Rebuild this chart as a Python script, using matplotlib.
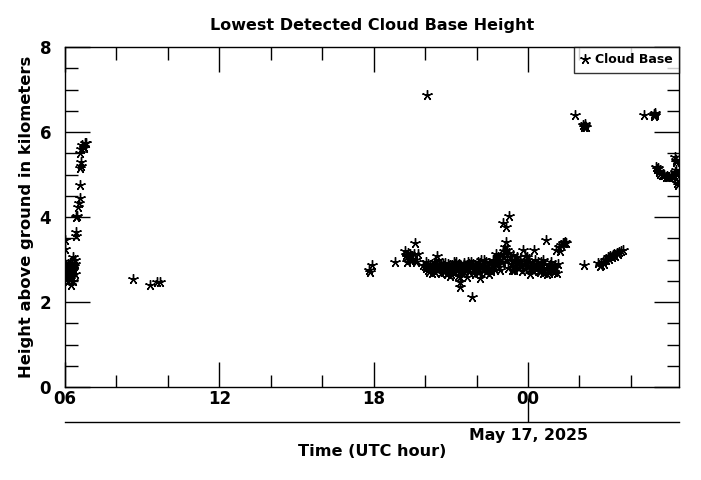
import numpy as np
import matplotlib
matplotlib.use("Agg")
import matplotlib.pyplot as plt
from matplotlib.ticker import MultipleLocator

# hours since 00 UTC May 16 (24 = 00 UTC May 17), heights in km
left_hr = [5.99, 5.99, 6.0, 6.02, 6.03, 6.05, 6.06, 6.08, 6.1, 6.1, 6.12, 6.13, 6.15, 6.15,
           6.17, 6.18, 6.2, 6.2, 6.22, 6.23, 6.25, 6.27, 6.28, 6.3, 6.3, 6.32, 6.33, 6.35,
           6.37, 6.38, 6.4, 6.41, 6.44, 6.44, 6.47, 6.5, 6.54, 6.58, 6.58, 6.6, 6.62, 6.63,
           6.6, 6.64, 6.68, 6.72, 6.78, 6.83, 6.75]
left_km = [3.45, 3.25, 2.7, 2.6, 2.85, 2.55, 2.75, 2.65, 2.9, 2.5, 2.8, 2.7, 2.6, 2.85,
           2.75, 2.55, 2.92, 2.65, 2.8, 2.4, 2.7, 2.9, 2.6, 2.8, 2.5, 3.07, 2.75, 2.85,
           2.65, 2.9, 3.0, 3.55, 3.65, 4.0, 4.02, 4.23, 4.32, 4.44, 4.75, 5.15, 5.3, 5.2,
           5.5, 5.6, 5.7, 5.65, 5.75, 5.73, 5.62]

sparse_hr = [8.64, 9.3, 9.57, 9.69, 17.82, 17.85, 17.95, 18.82]
sparse_km = [2.54, 2.4, 2.47, 2.47, 2.75, 2.7, 2.87, 2.95]

mid_hr = [19.2, 19.25, 19.3, 19.35, 19.4, 19.45, 19.5, 19.55, 19.6, 19.62, 19.66, 19.72,
          19.92, 19.3, 19.4, 20.06,
          20.0, 20.05, 20.1, 20.12, 20.18, 20.22, 20.28, 20.3, 20.35, 20.4, 20.45, 20.46,
          20.5, 20.55, 20.6, 20.62, 20.68, 20.72, 20.75, 20.8, 20.85, 20.88, 20.92, 20.98,
          21.0, 21.05, 21.1, 21.12, 21.18, 21.22, 21.25, 21.3, 21.34, 21.35, 21.36, 21.38,
          21.4, 21.45, 21.5, 21.52, 21.58, 21.6, 21.65, 21.7, 21.75, 21.78, 21.83, 21.85,
          21.9, 21.95, 22.0, 22.05, 22.1, 22.12, 22.15, 22.2, 22.25, 22.3, 22.35, 22.4,
          22.45, 22.5, 22.55, 22.6, 22.62, 22.68, 22.72, 22.76, 22.8, 22.85, 22.88, 22.92,
          22.95, 23.0, 23.02, 23.05, 23.08, 23.1, 23.13, 23.15, 23.18, 23.2, 23.25, 23.28,
          23.3, 23.35, 23.4, 23.45, 23.5, 23.55, 23.6, 23.65, 23.7, 23.75, 23.8, 23.85,
          23.9, 23.95, 24.0, 24.05, 24.1, 24.15, 24.2, 24.25, 24.3, 24.35, 24.4, 24.45,
          24.5, 24.55, 24.6, 24.65, 24.7, 24.75, 24.8, 24.85, 24.9, 24.95, 25.0, 25.05,
          25.1, 25.15, 25.2, 25.25, 25.3, 25.35, 25.4, 25.45, 25.48,
          20.15, 20.4, 20.7, 21.0, 21.2, 21.55, 21.8, 22.05, 22.3, 22.55, 23.45, 23.7,
          23.95, 24.2, 24.5, 24.8, 25.05,
          20.03, 20.25, 20.52, 20.78, 20.95, 21.15, 21.28, 21.42, 21.62, 21.72, 21.92, 22.18,
          22.38, 22.48, 22.7, 22.9, 23.22, 23.38, 23.58, 23.78, 23.88, 24.08, 24.28, 24.42,
          24.58, 24.72, 24.88, 25.02, 25.12]
mid_km = [3.21, 3.1, 3.05, 3.15, 3.0, 3.08, 2.98, 3.12, 3.0, 3.4, 2.95, 3.14,
          2.87, 2.95, 3.12, 6.87,
          2.85, 2.8, 2.9, 2.75, 2.85, 2.8, 2.9, 2.78, 2.85, 2.7, 2.88, 3.08,
          2.75, 2.82, 2.68, 2.9, 2.75, 2.85, 2.7, 2.8, 2.65, 2.9, 2.78, 2.7,
          2.85, 2.75, 2.8, 2.95, 2.7, 2.85, 2.78, 2.9, 2.36, 2.48, 2.58, 2.75,
          2.85, 2.8, 2.92, 2.7, 2.85, 2.78, 2.95, 2.71, 2.88, 2.8, 2.11, 2.9,
          2.75, 2.85, 2.8, 2.95, 2.7, 2.56, 2.88, 2.82, 2.9, 2.75, 2.95, 2.85,
          2.8, 2.92, 2.78, 2.88, 3.0, 2.85, 2.95, 3.14, 2.9, 3.05, 2.82, 2.98,
          3.1, 2.95, 3.87, 3.2, 3.05, 3.3, 3.76, 3.42, 3.22, 3.0, 3.15, 4.02,
          3.05, 2.9, 3.1, 2.95, 2.85, 3.0, 2.9, 2.8, 2.95, 2.85, 3.22, 2.9,
          2.78, 3.0, 2.85, 2.95, 2.8, 2.9, 2.75, 3.22, 2.88, 2.8, 2.95, 2.7,
          2.85, 2.78, 2.68, 2.9, 3.46, 2.8, 2.72, 2.88, 2.75, 2.85, 2.7, 2.82,
          3.22, 2.9, 3.3, 3.2, 3.35, 3.4, 3.38, 3.42, 3.38,
          2.7, 2.95, 2.9, 2.65, 2.95, 2.75, 2.95, 2.7, 2.98, 2.72, 2.75, 2.98,
          3.05, 2.72, 2.95, 2.68, 2.8,
          2.95, 2.68, 2.98, 2.92, 2.62, 2.9, 2.62, 2.68, 2.6, 2.9, 2.65, 3.0,
          2.7, 2.65, 2.75, 2.75, 2.8, 2.75, 3.05, 2.72, 3.08, 2.65, 3.0, 2.72,
          2.98, 2.66, 2.95, 2.7, 2.68]

right_hr = [25.81, 26.15, 26.18, 26.22, 26.25, 26.2,
            26.19, 26.71, 26.78, 26.85, 26.9, 26.95, 27.0, 27.05, 27.1, 27.15, 27.2,
            27.25, 27.3, 27.35, 27.4, 27.45, 27.5, 27.55, 27.62, 27.7,
            28.52, 28.88, 28.92, 28.95, 28.9,
            28.98, 29.02, 29.05, 29.08, 29.11, 29.15, 29.2, 29.25, 29.3, 29.35, 29.4,
            29.45, 29.5, 29.55, 29.6, 29.65, 29.69, 29.72, 29.74, 29.76, 29.77, 29.8,
            29.81, 29.84, 29.7]
right_km = [6.4, 6.16, 6.12, 6.18, 6.12, 6.14,
            2.87, 2.91, 2.85, 2.88, 2.95, 2.9, 2.98, 3.0, 3.05, 3.02, 3.08,
            3.05, 3.1, 3.12, 3.08, 3.15, 3.12, 3.18, 3.2, 3.22,
            6.4, 6.42, 6.45, 6.4, 6.38,
            5.18, 5.12, 5.15, 5.08, 5.07, 5.02, 5.0, 4.98, 4.99, 4.95, 4.97,
            4.93, 4.94, 4.98, 4.95, 4.96, 4.96, 5.42, 5.35, 5.3, 5.1, 5.0,
            4.8, 4.75, 5.05]

hour_ticks = [6, 12, 18, 24]
hour_labels = ["06", "12", "18", "00"]

hr = np.array(left_hr + sparse_hr + mid_hr + right_hr)
km = np.array(left_km + sparse_km + mid_km + right_km)

fig = plt.figure(figsize=(7.01, 4.80), dpi=100)
L, R, B, T = 65 / 701, 679 / 701, 1 - 387 / 480, 1 - 47 / 480
ax = fig.add_axes([L, B, R - L, T - B])

ax.plot(hr, km, linestyle="none", marker=(5, 2, 0), markersize=7.5,
        markeredgewidth=1.0, color="black", label="Cloud Base", clip_on=True)

ax.set_xlim(6, 29.87)
ax.set_ylim(0, 8)
ax.set_xticks(hour_ticks)
ax.set_xticklabels(hour_labels)
ax.xaxis.set_minor_locator(MultipleLocator(2))
ax.set_yticks([0, 2, 4, 6, 8])
ax.yaxis.set_minor_locator(MultipleLocator(0.5))
ax.tick_params(which="both", direction="in", top=True, right=True, width=1)
ax.tick_params(which="major", length=18, labelsize=12)
ax.tick_params(axis="x", which="major", pad=2)
ax.tick_params(axis="y", which="major", pad=10)
ax.tick_params(which="minor", length=9)
for lab in ax.get_xticklabels() + ax.get_yticklabels():
    lab.set_fontweight("bold")
for sp in ax.spines.values():
    sp.set_linewidth(1)

ax.set_title("Lowest Detected Cloud Base Height", fontsize=11.5, fontweight="bold", pad=12)
ax.set_ylabel("Height above ground in kilometers", fontsize=11.8, fontweight="bold",
              labelpad=4)

leg = ax.legend(loc="upper right", borderaxespad=0, handlelength=0.8, handletextpad=0.4,
                frameon=True, fancybox=False, prop={"weight": "bold", "size": 9},
                borderpad=0.5)
leg.get_frame().set_edgecolor("black")
leg.get_frame().set_linewidth(1)

# date axis below
ax2 = fig.add_axes([L, 1 - 422 / 480, R - L, 0.0001])
ax2.set_xlim(ax.get_xlim())
ax2.set_yticks([])
for s in ["top", "left", "right"]:
    ax2.spines[s].set_visible(False)
ax2.spines["bottom"].set_linewidth(1)
ax2.set_xticks([24])
ax2.set_xticklabels(["May 17, 2025"], fontsize=11.3, fontweight="bold")
ax2.tick_params(axis="x", direction="in", length=17, width=1, pad=4)
ax2.patch.set_visible(False)

fig.text((L + R) / 2, 1 - 452 / 480, "Time (UTC hour)", ha="center", va="center",
         fontsize=11.6, fontweight="bold")

fig.savefig("out.png", dpi=100)
